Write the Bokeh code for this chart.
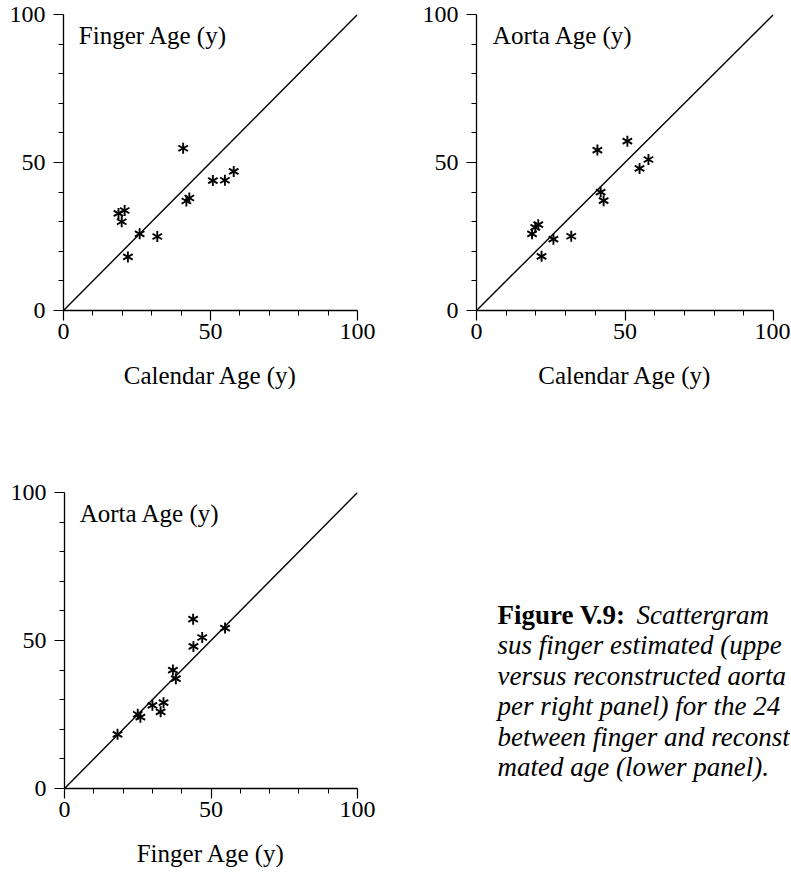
import math
from bokeh.plotting import figure
from bokeh.layouts import column, row
from bokeh.models import FixedTicker, Label, Range1d
from bokeh.embed import file_html
from bokeh.resources import INLINE

# ---- data ----
calendar_age = [40.7, 50.8, 54.9, 57.9, 41.8, 42.8, 25.9, 31.9, 21.9, 18.7, 20.8, 19.8]
finger_age = [54.8, 43.9, 44.0, 47.0, 37.0, 38.0, 25.9, 25.0, 18.1, 32.8, 33.8, 30.0]
aorta_age = [54.2, 57.2, 48.0, 51.0, 40.0, 37.1, 24.1, 25.1, 18.3, 25.9, 29.0, 28.1]
identity = [0, 100]
major_ticks = [0, 50, 100]
minor_ticks = [10, 20, 30, 40, 60, 70, 80, 90]

SERIF = "Liberation Serif"
caption_head = "Figure V.9:"
caption_first = "Scattergram"
caption_lines = [
    "sus finger estimated (uppe",
    "versus reconstructed aorta",
    "per right panel) for the 24",
    "between finger and reconst",
    "mated age (lower panel).",
]


def panel(xs, ys, xlabel, title, fw, fh, bl, br, bt, bb, title_x=5.2):
    p = figure(width=bl + fw + br, height=bt + fh + bb,
               x_range=Range1d(0, 100), y_range=Range1d(0, 100),
               output_backend="svg", toolbar_location=None,
               min_border_left=bl, min_border_right=br,
               min_border_top=bt, min_border_bottom=bb)
    p.frame_width = fw
    p.frame_height = fh
    p.outline_line_color = None
    p.grid.visible = False
    p.background_fill_color = "white"
    p.border_fill_color = "white"
    for ax in (p.xaxis[0], p.yaxis[0]):
        ax.ticker = FixedTicker(ticks=major_ticks, minor_ticks=minor_ticks)
        ax.axis_line_color = "black"
        ax.axis_line_width = 1.3
        ax.major_tick_line_color = "black"
        ax.major_tick_line_width = 1.2
        ax.minor_tick_line_color = "black"
        ax.minor_tick_line_width = 1.0
        ax.major_tick_in = 0
        ax.minor_tick_in = 0
        ax.major_tick_out = 10
        ax.minor_tick_out = 5
        ax.major_label_text_font = SERIF
        ax.major_label_text_font_size = "24px"
        ax.major_label_text_color = "black"
    p.yaxis.major_label_standoff = 8
    p.xaxis.major_label_standoff = 3
    p.xaxis.axis_label = xlabel
    p.xaxis.axis_label_text_font = SERIF
    p.xaxis.axis_label_text_font_size = "25px"
    p.xaxis.axis_label_text_font_style = "normal"
    p.xaxis.axis_label_text_color = "black"
    p.xaxis.axis_label_standoff = 20

    p.line(identity, identity, line_color="black", line_width=1.4)
    for ang in (math.pi / 2, math.pi / 6, -math.pi / 6):
        p.scatter(xs, ys, marker="dash", size=11, angle=ang,
                  line_color="black", line_width=1.9)
    p.add_layout(Label(x=title_x, y=93, text=title, text_font=SERIF,
                       text_font_size="25px", text_baseline="middle",
                       text_color="black"))
    return p


p1 = panel(calendar_age, finger_age, "Calendar Age (y)", "Finger Age (y)",
           294, 296, 63, 30, 14, 90)
p2 = panel(calendar_age, aorta_age, "Calendar Age (y)", "Aorta Age (y)",
           297, 296, 89, 17, 14, 90, title_x=5.5)
p3 = panel(finger_age, aorta_age, "Finger Age (y)", "Aorta Age (y)",
           293, 296, 64, 23, 92, 86)

# caption panel: its frame is aligned with p3's frame (page y 492..788),
# so the ranges below are expressed in page pixels
cw = 410
p4 = figure(width=cw, height=92 + 296 + 86,
            x_range=Range1d(380, 380 + cw), y_range=Range1d(788, 492),
            output_backend="svg", toolbar_location=None,
            min_border_left=0, min_border_right=0,
            min_border_top=92, min_border_bottom=86,
            x_axis_location=None, y_axis_location=None)
p4.frame_width = cw
p4.frame_height = 296
p4.outline_line_color = None
p4.grid.visible = False
p4.border_fill_color = "white"
p4.background_fill_color = "white"

cx = 497
top0 = 614
step = 30.5
FS = "27px"
p4.add_layout(Label(x=cx, y=top0, text=caption_head, text_font=SERIF,
                    text_font_size=FS, text_font_style="bold",
                    text_baseline="middle", text_color="black"))
p4.add_layout(Label(x=cx + 139, y=top0, text=caption_first, text_font=SERIF,
                    text_font_size=FS, text_font_style="italic",
                    text_baseline="middle", text_color="black"))
for i, t in enumerate(caption_lines):
    p4.add_layout(Label(x=cx, y=top0 + step * (i + 1), text=t, text_font=SERIF,
                        text_font_size=FS, text_font_style="italic",
                        text_baseline="middle", text_color="black"))

layout = column(row(p1, p2), row(p3, p4))
open("out.html", "w").write(file_html(layout, INLINE))
